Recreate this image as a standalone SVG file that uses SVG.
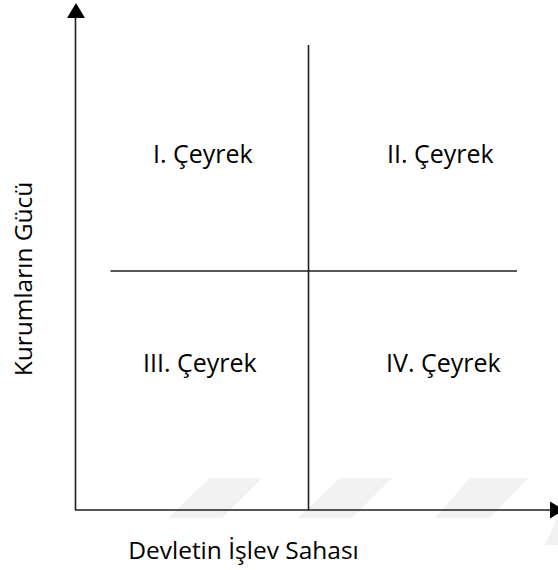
<svg xmlns="http://www.w3.org/2000/svg" width="558" height="570" viewBox="0 0 558 570">
<style>
.ln{stroke:#1e1e1e;stroke-width:1.6;fill:none}
.lbl{font-family:"Open Sans","Noto Sans",sans-serif;font-size:25px;fill:#000}
.wm{fill:#f2f2f2}
</style>
<rect width="558" height="570" fill="#fff"/>
<g id="watermark">
<polygon class="wm" points="210,478 262,478 222,518 168,518"/>
<polygon class="wm" points="340,478 392,478 352,518 298,518"/>
<polygon class="wm" points="470,478 528,478 490,518 435,518"/>
<polygon class="wm" points="558,516 570,516 560,545 545,545"/>
</g>
<g id="connectors">
<line class="ln" x1="75.5" y1="14" x2="75.5" y2="510"/>
<line class="ln" x1="75" y1="510" x2="552" y2="510"/>
<polygon points="76,3 67,18 85,18" fill="#000"/>
<polygon points="550,501.5 564,510 550,518.5" fill="#000"/>
<line class="ln" x1="308.5" y1="45" x2="308.5" y2="510"/>
<line class="ln" x1="110.5" y1="271" x2="517" y2="271"/>
</g>
<g id="q1"><text class="lbl" x="153" y="163">I. Çeyrek</text></g>
<g id="q2"><text class="lbl" x="387" y="163">II. Çeyrek</text></g>
<g id="q3"><text class="lbl" x="143" y="372">III. Çeyrek</text></g>
<g id="q4"><text class="lbl" x="386" y="372">IV. Çeyrek</text></g>
<g id="ylabel"><text class="lbl" text-anchor="middle" transform="translate(32,279) rotate(-90)" style="font-size:24.5px">Kurumların Gücü</text></g>
<g id="xlabel"><text class="lbl" text-anchor="middle" x="243.5" y="559" style="font-size:24.5px">Devletin İşlev Sahası</text></g>
</svg>
